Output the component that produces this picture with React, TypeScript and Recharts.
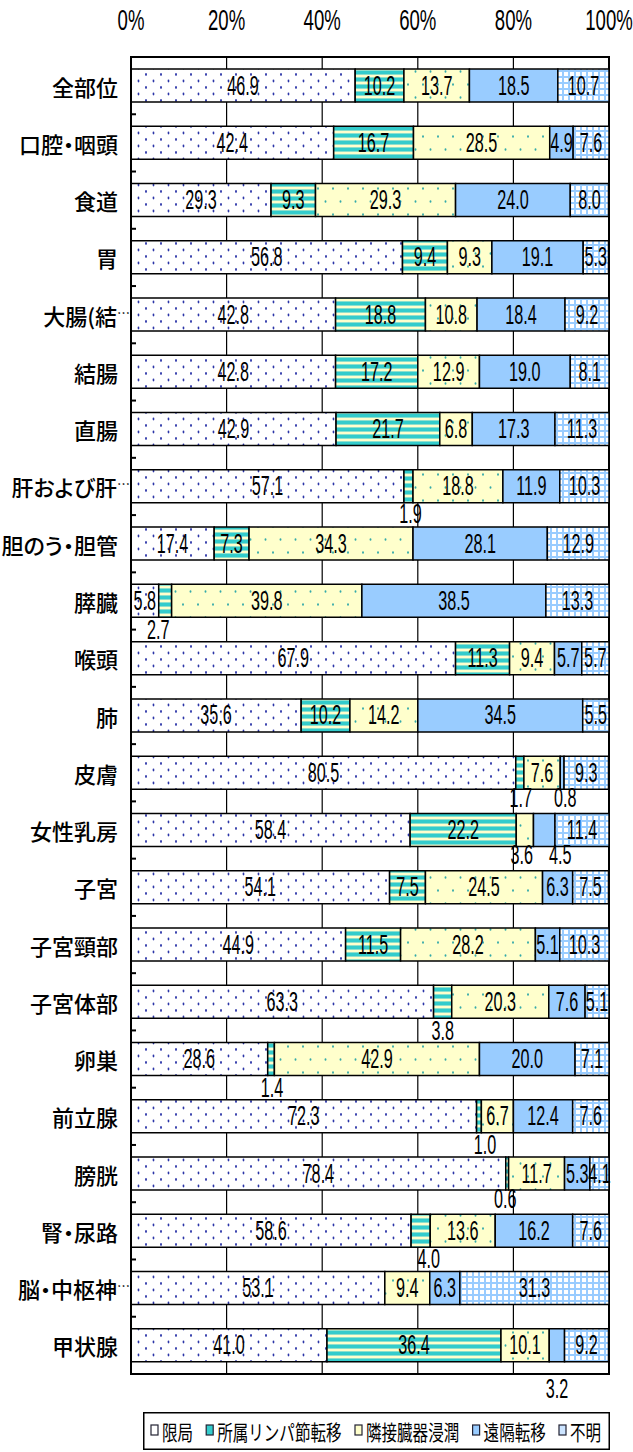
import React from "react";
import {
  BarChart,
  Bar,
  XAxis,
  YAxis,
  CartesianGrid,
  LabelList,
  ReferenceArea,
} from "recharts";

const categories = [
  "全部位",
  "口腔・咽頭",
  "食道",
  "胃",
  "大腸(結…",
  "結腸",
  "直腸",
  "肝および肝…",
  "胆のう・胆管",
  "膵臓",
  "喉頭",
  "肺",
  "皮膚",
  "女性乳房",
  "子宮",
  "子宮頸部",
  "子宮体部",
  "卵巣",
  "前立腺",
  "膀胱",
  "腎・尿路",
  "脳・中枢神…",
  "甲状腺",
];

const localized = [46.9, 42.4, 29.3, 56.8, 42.8, 42.8, 42.9, 57.1, 17.4, 5.8, 67.9, 35.6, 80.5, 58.4, 54.1, 44.9, 63.3, 28.6, 72.3, 78.4, 58.6, 53.1, 41.0];
const regional = [10.2, 16.7, 9.3, 9.4, 18.8, 17.2, 21.7, 1.9, 7.3, 2.7, 11.3, 10.2, 1.7, 22.2, 7.5, 11.5, 3.8, 1.4, 1.0, 0.6, 4.0, 0, 36.4];
const adjacent = [13.7, 28.5, 29.3, 9.3, 10.8, 12.9, 6.8, 18.8, 34.3, 39.8, 9.4, 14.2, 7.6, 3.6, 24.5, 28.2, 20.3, 42.9, 6.7, 11.7, 13.6, 9.4, 10.1];
const distant = [18.5, 4.9, 24.0, 19.1, 18.4, 19.0, 17.3, 11.9, 28.1, 38.5, 5.7, 34.5, 0.8, 4.5, 6.3, 5.1, 7.6, 20.0, 12.4, 5.3, 16.2, 6.3, 3.2];
const unknown = [10.7, 7.6, 8.0, 5.3, 9.2, 8.1, 11.3, 10.3, 12.9, 13.3, 5.7, 5.5, 9.3, 11.4, 7.5, 10.3, 5.1, 7.1, 7.6, 4.1, 7.6, 31.3, 9.2];

const xTicks = [0, 20, 40, 60, 80, 100];

const series = [
  { key: "localized", name: "限局", fill: "url(#pLocal)", swatch: "#ffffff" },
  { key: "regional", name: "所属リンパ節転移", fill: "url(#pLymph)", swatch: "#33cccc" },
  { key: "adjacent", name: "隣接臓器浸潤", fill: "url(#pAdj)", swatch: "#ffffcc" },
  { key: "distant", name: "遠隔転移", fill: "#99ccff", swatch: "#99ccff" },
  { key: "unknown", name: "不明", fill: "url(#pUnknown)", swatch: "#cce4ff" },
];

// labels Excel had moved under the bar (small segments)
const movedLabels: Record<string, { dx: number; dy: number }> = {
  "肝および肝…|regional": { dx: 2, dy: 28 },
  "膵臓|regional": { dx: -7, dy: 29 },
  "皮膚|regional": { dx: 1, dy: 25 },
  "皮膚|distant": { dx: 3, dy: 25 },
  "女性乳房|adjacent": { dx: -3, dy: 25 },
  "女性乳房|distant": { dx: 16, dy: 25 },
  "子宮体部|regional": { dx: 0, dy: 29 },
  "卵巣|regional": { dx: 1, dy: 29 },
  "前立腺|regional": { dx: 6, dy: 29 },
  "膀胱|regional": { dx: -2, dy: 25 },
  "腎・尿路|regional": { dx: 8, dy: 28 },
  "甲状腺|distant": { dx: 0, dy: 44 },
};

const data = categories.map((name, i) => ({
  name,
  localized: localized[i],
  regional: regional[i],
  adjacent: adjacent[i],
  distant: distant[i],
  unknown: unknown[i],
}));

const W = 633;
const H = 1452;
const PLOT_LEFT = 131;
const PLOT_TOP = 57;
const PLOT_BOTTOM = 1374;
const BAND = (PLOT_BOTTOM - PLOT_TOP) / categories.length;
const NUM_FONT = "'Liberation Sans', Arial, sans-serif";
const JP_FONT = "'Noto Sans CJK JP', sans-serif";
const PALT = { fontFeatureSettings: '"palt"' };

function XTick(props: any) {
  const { x, payload } = props;
  return (
    <text
      transform={`translate(${x},19) scale(0.62,1)`}
      textAnchor="middle"
      dominantBaseline="central"
      fontFamily={NUM_FONT}
      fontSize={30}
      fill="#000"
    >
      {payload.value}%
    </text>
  );
}

function YTick(props: any) {
  const { y, payload } = props;
  const label: string = payload.value;
  const cut = label.endsWith("…");
  const main = cut ? label.slice(0, -1) : label;
  return (
    <g>
      <line x1={PLOT_LEFT} x2={PLOT_LEFT + 5} y1={y + BAND / 2} y2={y + BAND / 2} stroke="#000" strokeWidth={2} />
      <text
        x={cut ? 130 : 118}
        y={y}
        textAnchor="end"
        dominantBaseline="central"
        fontFamily={JP_FONT}
        fontSize={22}
        fontWeight={500}
        fill="#000"
        style={PALT}
      >
        {main}
        {cut && (
          <tspan fontSize={13} dy={-3}>
            …
          </tspan>
        )}
      </text>
    </g>
  );
}

function makeLabel(key: string) {
  return (props: any) => {
    const { x, y, width, height, value, index } = props;
    if (!value) return null;
    const moved = movedLabels[`${categories[index]}|${key}`];
    const cx = x + width / 2 + (moved ? moved.dx : 0);
    const cy = y + height / 2 + (moved ? moved.dy : 0);
    return (
      <text
        transform={`translate(${cx},${cy}) scale(0.6,1)`}
        textAnchor="middle"
        dominantBaseline="central"
        fontFamily={NUM_FONT}
        fontSize={27}
        fill="#000"
      >
        {Number(value).toFixed(1)}
      </text>
    );
  };
}

function LegendBox() {
  let cursor = 8;
  const items = series.map((s) => {
    const x = cursor;
    const textW = s.name.length * 15.6;
    cursor += 12 + textW + 12;
    return (
      <g key={s.key}>
        <rect x={x} y={13} width={7} height={10} fill={s.swatch} stroke="#223" strokeWidth={1.2} />
        <text
          transform={`translate(${x + 11},19) scale(0.74,1)`}
          dominantBaseline="central"
          fontFamily={JP_FONT}
          fontSize={21}
          fill="#000"
        >
          {s.name}
        </text>
      </g>
    );
  });
  return (
    <svg width={467} height={38} style={{ position: "absolute", left: 143, top: 1412 }}>
      <rect x={0.75} y={0.75} width={465.5} height={36.5} fill="#fff" stroke="#000" strokeWidth={1.5} />
      {items}
    </svg>
  );
}

export default function App() {
  return (
    <div style={{ position: "absolute", left: 0, top: 0, width: W, height: H, background: "#fff" }}>
      <BarChart
        width={W}
        height={H}
        data={data}
        layout="vertical"
        margin={{ top: 0, right: 24, bottom: H - PLOT_BOTTOM, left: 0 }}
        barCategoryGap="21%"
      >
        <defs>
          <pattern id="pLocal" patternUnits="userSpaceOnUse" width={15} height={13}>
            <rect width={15} height={13} fill="#fff" />
            <ellipse cx={3.5} cy={3} rx={0.9} ry={1.4} fill="#2b35a8" />
            <ellipse cx={11} cy={9.5} rx={0.9} ry={1.4} fill="#2b35a8" />
          </pattern>
          <pattern id="pLymph" patternUnits="userSpaceOnUse" width={7} height={7}>
            <rect width={7} height={7} fill="#ffffcc" />
            <rect y={0} width={7} height={1} fill="#8fe0cc" />
            <rect y={1} width={7} height={3} fill="#33cccc" />
            <rect y={4} width={7} height={1} fill="#8fe0cc" />
          </pattern>
          <pattern id="pAdj" patternUnits="userSpaceOnUse" width={15} height={26}>
            <rect width={15} height={26} fill="#ffffcc" />
            <ellipse cx={3} cy={6.5} rx={0.9} ry={1.2} fill="#33aaaa" />
            <ellipse cx={10.5} cy={19.5} rx={0.9} ry={1.2} fill="#33aaaa" />
          </pattern>
          <pattern id="pUnknown" patternUnits="userSpaceOnUse" width={6} height={6}>
            <rect width={6} height={6} fill="#99ccff" />
            <rect x={0} y={0} width={4} height={4} fill="#ffffff" />
          </pattern>
        </defs>
        <CartesianGrid vertical horizontal={false} stroke="#000" strokeWidth={1.2} />
        <XAxis
          type="number"
          orientation="top"
          domain={[0, 100]}
          ticks={xTicks}
          allowDataOverflow
          height={PLOT_TOP}
          axisLine={{ stroke: "#000", strokeWidth: 2 }}
          tickLine={false}
          tick={<XTick />}
        />
        <YAxis
          type="category"
          dataKey="name"
          width={PLOT_LEFT}
          interval={0}
          axisLine={{ stroke: "#000", strokeWidth: 2 }}
          tickLine={false}
          tick={<YTick />}
        />
        {series.map((s) => (
          <Bar
            key={s.key}
            dataKey={s.key}
            name={s.name}
            stackId="a"
            fill={s.fill}
            stroke="#000"
            strokeWidth={1.5}
            isAnimationActive={false}
          >
            <LabelList dataKey={s.key} content={makeLabel(s.key)} />
          </Bar>
        ))}
        <ReferenceArea x1={0} x2={100} fill="none" stroke="#000" strokeWidth={2} />
      </BarChart>
      <LegendBox />
    </div>
  );
}
